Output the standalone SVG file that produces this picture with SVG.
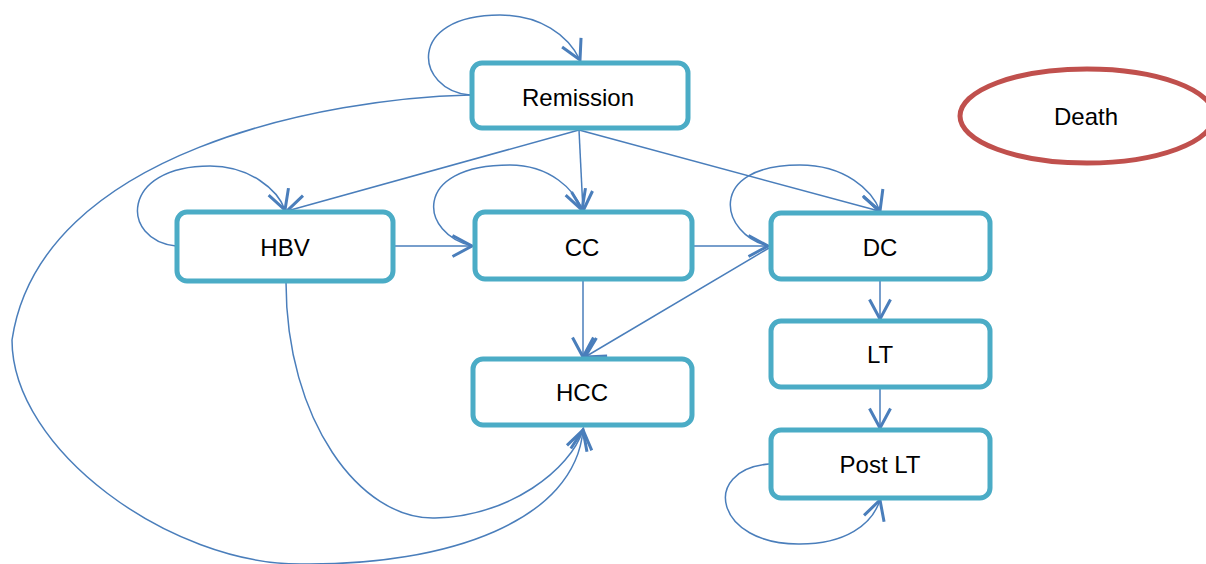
<svg xmlns="http://www.w3.org/2000/svg" width="1206" height="564" viewBox="0 0 1206 564">
<style>
.box{fill:#fff;stroke:#4BACC6;stroke-width:5}
.death{fill:#fff;stroke:#C0504D;stroke-width:5}
.lbl{font-family:"Liberation Sans",Arial,sans-serif;font-size:24px;fill:#000;text-anchor:middle}
.c{fill:none;stroke:#4A7EBB;stroke-width:1.5;marker-end:url(#arr)}
</style>
<defs>
<marker id="arr" markerUnits="userSpaceOnUse" markerWidth="30" markerHeight="30" viewBox="-15 -10 20 20" refX="0" refY="0" orient="auto">
<path d="M -13 -7 L 0 0 L -13 7" fill="none" stroke="#4A7EBB" stroke-width="2"/>
</marker>
</defs>
<rect width="1206" height="564" fill="#fff"/>
<g id="connectors">
<path class="c" d="M 470 95 C 415 90, 405 15, 500 15 C 540 15, 568 35, 580 60"/>
<path class="c" d="M 470 95 C 330 98, 40 150, 12 340 C 12 450, 170 564, 300 564 C 450 566, 575 520, 583 430"/>
<path class="c" d="M 579 130 L 287 211"/>
<path class="c" d="M 579 130 L 583 211"/>
<path class="c" d="M 579 130 L 879 211"/>
<path class="c" d="M 176 246 C 120 240, 120 166, 210 166 C 250 166, 278 190, 285 210"/>
<path class="c" d="M 394 246 L 472 246"/>
<path class="c" d="M 286 282 C 286 420, 360 520, 435 518 C 510 516, 570 470, 583 430"/>
<path class="c" d="M 473 246 C 420 235, 410 165, 510 165 C 550 165, 575 190, 582 210"/>
<path class="c" d="M 692 246 L 768 246"/>
<path class="c" d="M 583 280 L 583 357"/>
<path class="c" d="M 769 246 C 720 235, 705 165, 800 165 C 845 165, 872 190, 880 211"/>
<path class="c" d="M 769 248 L 585 357"/>
<path class="c" d="M 880 280 L 880 319"/>
<path class="c" d="M 880 388 L 880 428"/>
<path class="c" d="M 769 464 C 700 470, 715 545, 800 544 C 845 544, 872 525, 880 500"/>
</g>
<g id="remission"><rect class="box" x="472" y="63" width="216" height="65" rx="10"/><text class="lbl" x="578" y="106">Remission</text></g>
<g id="hbv"><rect class="box" x="177" y="212" width="216" height="69" rx="10"/><text class="lbl" x="285" y="256">HBV</text></g>
<g id="cc"><rect class="box" x="475" y="212" width="217" height="67" rx="10"/><text class="lbl" x="582" y="256">CC</text></g>
<g id="dc"><rect class="box" x="771" y="213" width="219" height="66" rx="10"/><text class="lbl" x="880" y="256">DC</text></g>
<g id="hcc"><rect class="box" x="473" y="359" width="219" height="66" rx="10"/><text class="lbl" x="582" y="401">HCC</text></g>
<g id="lt"><rect class="box" x="771" y="321" width="219" height="66" rx="10"/><text class="lbl" x="880" y="363">LT</text></g>
<g id="postlt"><rect class="box" x="771" y="430" width="219" height="68" rx="10"/><text class="lbl" x="880" y="473">Post LT</text></g>
<g id="death"><ellipse class="death" cx="1087" cy="116" rx="127" ry="47"/><text class="lbl" x="1086" y="125">Death</text></g>
</svg>
